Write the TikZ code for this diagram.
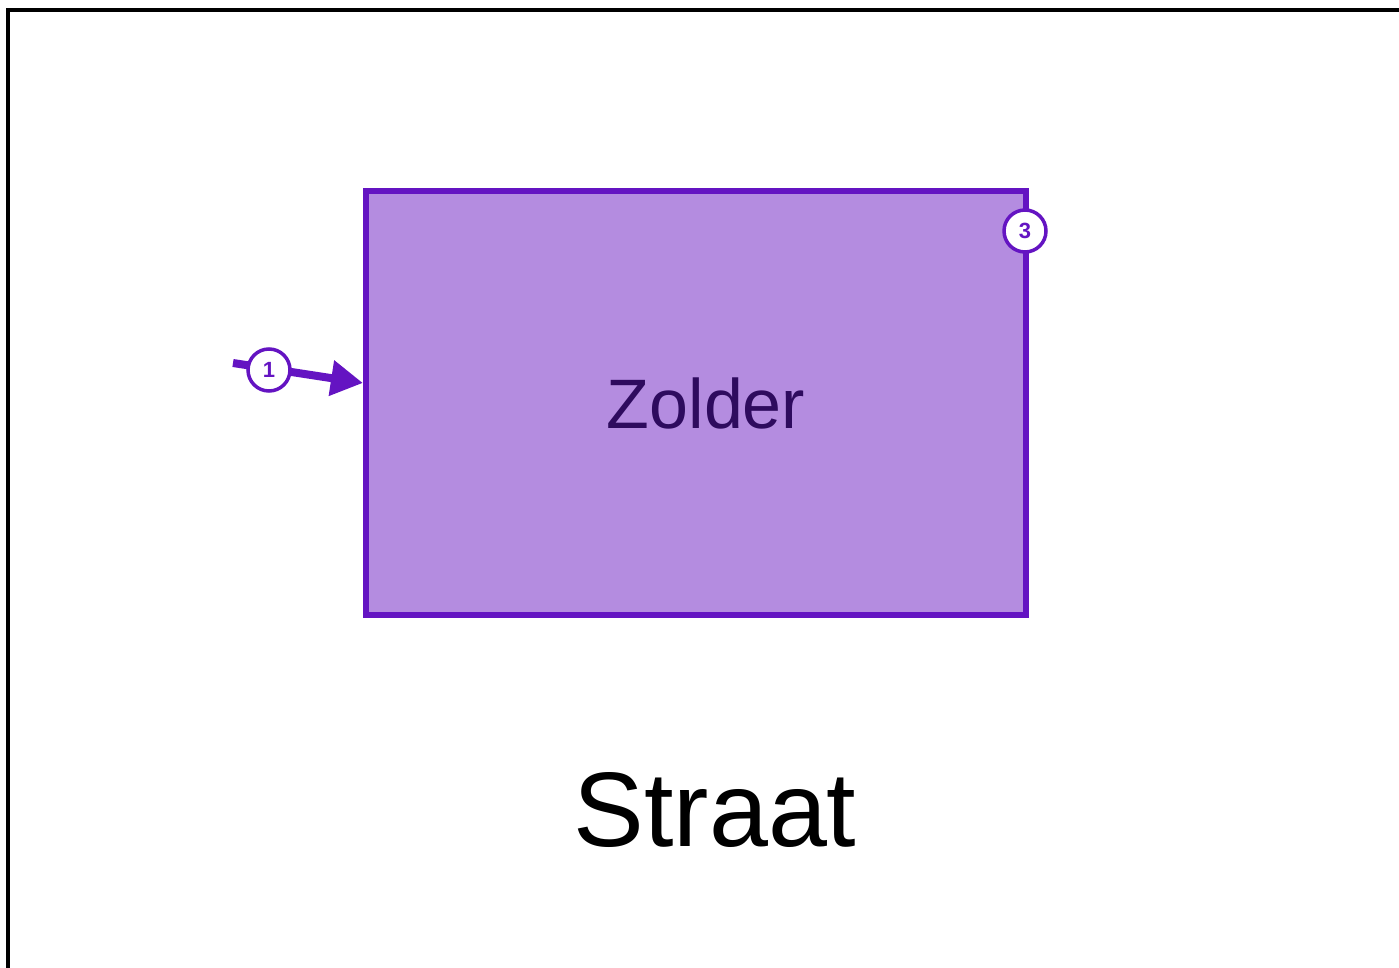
\documentclass[tikz,border=0pt]{standalone}
\usepackage{fontspec}
\setmainfont{Liberation Sans}
\usetikzlibrary{arrows.meta}
\definecolor{purp}{HTML}{6414C2}
\definecolor{purpfill}{HTML}{B48CE0}
\definecolor{purptext}{HTML}{2E0B5E}
\tikzset{
  badge/.style={circle, draw=purp, line width=3.5pt, fill=white, minimum size=42pt, inner sep=0pt, text=purp, font=\fontsize{22}{22}\selectfont\bfseries},
  room/.style={draw=purp, fill=purpfill, line width=6pt, minimum width=660pt, minimum height=424pt, inner sep=0pt, text=purptext, font=\fontsize{70}{70}\selectfont}
}
\begin{document}
\begin{tikzpicture}[x=1pt,y=-1pt]
\useasboundingbox (0,0) rectangle (1399,968);
\draw[line width=3.5pt] (8,980) -- (8,10) -- (1410,10);
\node[room] (zolder) at (696,403) {};
\node[text=purptext, font=\fontsize{70}{70}\selectfont] (zl) at (706,403) {Zolder};
\coordinate (start) at (233,363);
\draw[purp, line width=8pt, -{Triangle[length=32pt,width=34pt]}] (start) -- (zolder.west |- 0,383);
\node[badge] (b1) at (269,370) {1};
\node[badge] (b3) at (1025,231) {3};
\node[font=\fontsize{106}{106}\selectfont] (straat) at (715,810) {Straat};
\end{tikzpicture}
\end{document}
